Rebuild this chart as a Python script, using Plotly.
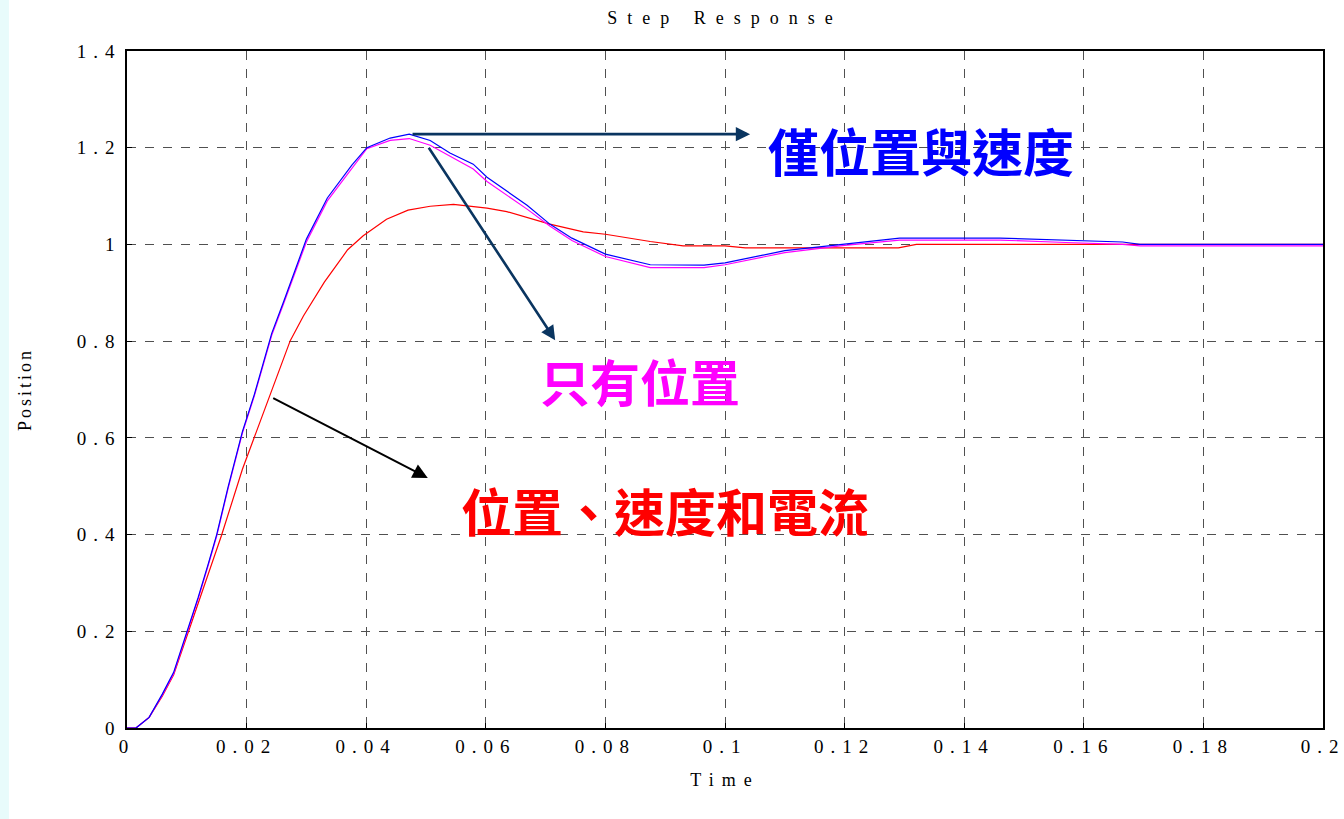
import plotly.graph_objects as go

# ---------------- data ----------------
t_vel = [0, 0.0015, 0.0037, 0.0059, 0.0078, 0.0103, 0.0119, 0.0136, 0.015, 0.0169, 0.0193,
         0.0213, 0.0242, 0.0262, 0.030, 0.0335, 0.0376, 0.0401, 0.044, 0.0472, 0.0507, 0.054,
         0.0579, 0.0602, 0.0669, 0.0707, 0.0744, 0.080, 0.0875, 0.0965, 0.100, 0.110, 0.120,
         0.1292, 0.146, 0.157, 0.1665, 0.1694, 0.200]
y_vel = [0, 0, 0.022, 0.070, 0.115, 0.207, 0.270, 0.340, 0.400, 0.498, 0.613,
         0.690, 0.816, 0.882, 1.011, 1.096, 1.164, 1.200, 1.220, 1.228, 1.215, 1.189,
         1.166, 1.139, 1.081, 1.042, 1.013, 0.980, 0.958, 0.957, 0.962, 0.987, 1.000,
         1.013, 1.013, 1.008, 1.005, 1.000, 1.000]

t_pos = t_vel
y_pos = [0, 0, 0.022, 0.068, 0.112, 0.204, 0.267, 0.337, 0.397, 0.495, 0.610,
         0.687, 0.812, 0.878, 1.005, 1.090, 1.158, 1.198, 1.215, 1.219, 1.205, 1.183,
         1.156, 1.130, 1.073, 1.038, 1.008, 0.975, 0.952, 0.952, 0.958, 0.983, 0.998,
         1.009, 1.009, 1.004, 1.000, 0.997, 0.997]

t_cur = [0, 0.0015, 0.0037, 0.0059, 0.0078, 0.0103, 0.013, 0.0158, 0.0193, 0.021, 0.024,
         0.0273, 0.0295, 0.033, 0.0369, 0.0395, 0.0434, 0.047, 0.0507, 0.0546, 0.0602, 0.0635,
         0.0707, 0.0763, 0.080, 0.0875, 0.093, 0.100, 0.1034, 0.129, 0.132, 0.200]
y_cur = [0, 0, 0.022, 0.066, 0.110, 0.200, 0.299, 0.398, 0.535, 0.591, 0.694,
         0.801, 0.852, 0.922, 0.989, 1.018, 1.052, 1.071, 1.079, 1.083, 1.075, 1.068,
         1.042, 1.026, 1.021, 1.006, 0.997, 0.997, 0.993, 0.993, 1.000, 1.000]

x_ticks = [0, 0.02, 0.04, 0.06, 0.08, 0.1, 0.12, 0.14, 0.16, 0.18, 0.2]
x_labels = ["0", "0.02", "0.04", "0.06", "0.08", "0.1", "0.12", "0.14", "0.16", "0.18", "0.2"]
y_ticks = [0, 0.2, 0.4, 0.6, 0.8, 1.0, 1.2, 1.4]
y_labels = ["0", "0.2", "0.4", "0.6", "0.8", "1", "1.2", "1.4"]

title_text = "Step Response"
x_title = "Time"
y_title = "Position"
label_vel = "僅位置與速度"
label_pos = "只有位置"
label_cur = "位置、速度和電流"


def spaced(s, px):
    return '<span style="letter-spacing:%dpx">%s</span>' % (px, s)


# ---------------- figure ----------------
fig = go.Figure()
fig.add_trace(go.Scatter(x=t_cur, y=y_cur, mode="lines", line=dict(color="#FF0000", width=1.2),
                         name=label_cur, showlegend=False))
fig.add_trace(go.Scatter(x=t_pos, y=y_pos, mode="lines", line=dict(color="#FF00FF", width=1.2),
                         name=label_pos, showlegend=False))
fig.add_trace(go.Scatter(x=t_vel, y=y_vel, mode="lines", line=dict(color="#0000FF", width=1.2),
                         name=label_vel, showlegend=False))

serif = "Liberation Serif, Times New Roman, serif"
cjk = "Noto Sans CJK TC, Noto Sans CJK SC, sans-serif"
navy = "#0A3560"

annotations = [
    # arrows
    dict(x=0.1042, y=1.228, ax=0.0475, ay=1.228, xref="x", yref="y", axref="x", ayref="y",
         text="", showarrow=True, arrowhead=2, arrowsize=1.1, arrowwidth=2.6, arrowcolor=navy),
    dict(x=0.0716, y=0.802, ax=0.0503, ay=1.203, xref="x", yref="y", axref="x", ayref="y",
         text="", showarrow=True, arrowhead=2, arrowsize=1.1, arrowwidth=2.6, arrowcolor=navy),
    dict(x=0.0503, y=0.517, ax=0.0242, ay=0.684, xref="x", yref="y", axref="x", ayref="y",
         text="", showarrow=True, arrowhead=2, arrowsize=1.5, arrowwidth=2, arrowcolor="#000000"),
    # labels
    dict(x=0.1328, y=1.195, xref="x", yref="y", text="<b>%s</b>" % label_vel, showarrow=False,
         font=dict(family=cjk, size=51, color="#0000FF"), xanchor="center", yanchor="middle"),
    dict(x=0.0858, y=0.72, xref="x", yref="y", text="<b>%s</b>" % label_pos, showarrow=False,
         font=dict(family=cjk, size=50, color="#FF00FF"), xanchor="center", yanchor="middle"),
    dict(x=0.090, y=0.451, xref="x", yref="y", text="<b>%s</b>" % label_cur, showarrow=False,
         font=dict(family=cjk, size=51, color="#FF0000"), xanchor="center", yanchor="middle"),
]

fig.update_layout(
    width=1344, height=819,
    margin=dict(l=127, r=21, t=51, b=91, autoexpand=False),
    paper_bgcolor="white", plot_bgcolor="white",
    title=dict(text=spaced(title_text, 10), x=0.5395, xanchor="center", y=0.978, yanchor="middle",
               font=dict(family=serif, size=18, color="#000000")),
    annotations=annotations,
    shapes=[dict(type="rect", xref="paper", yref="paper", x0=-0.1062, x1=-0.0987, y0=-0.2, y1=1.1,
                 fillcolor="#E8FBFB", line=dict(width=0), layer="below")],
)

fig.update_xaxes(range=[0, 0.2], tickvals=x_ticks, ticktext=[spaced(s, 7) for s in x_labels],
                 ticklabeloverflow="allow", automargin=False,
                 showline=True, linecolor="#000000", linewidth=1.5, mirror=True,
                 showgrid=True, gridcolor="#505050", griddash="dash", gridwidth=1,
                 zeroline=False, ticks="inside", ticklen=5, tickcolor="#000000",
                 tickfont=dict(family=serif, size=19, color="#000000"),
                 title=dict(text=spaced(x_title, 8), font=dict(family=serif, size=18, color="#000000"),
                            standoff=18))
fig.update_yaxes(range=[0, 1.4], tickvals=y_ticks, ticktext=[spaced(s, 7) for s in y_labels],
                 automargin=False,
                 showline=True, linecolor="#000000", linewidth=1.5, mirror=True,
                 showgrid=True, gridcolor="#505050", griddash="dash", gridwidth=1,
                 zeroline=False, ticks="inside", ticklen=5, tickcolor="#000000",
                 tickfont=dict(family=serif, size=19, color="#000000"),
                 title=dict(text=spaced(y_title, 3), font=dict(family=serif, size=18, color="#000000"),
                            standoff=40))

fig.write_html("out.html", config={"displayModeBar": False},
               post_script="document.body.style.margin='0';")
